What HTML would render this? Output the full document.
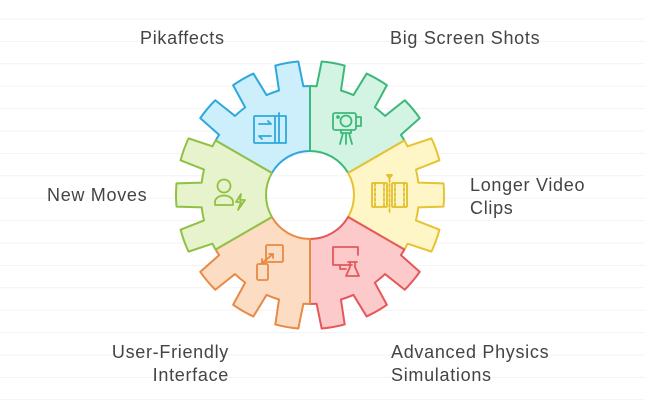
<!DOCTYPE html>
<html><head><meta charset="utf-8"><style>
html,body{margin:0;padding:0;background:#fff;}
body{width:645px;height:400px;overflow:hidden;position:relative;font-family:"Liberation Sans",sans-serif;}
.t{position:absolute;font-size:18px;color:#444;line-height:23px;white-space:nowrap;letter-spacing:0.7px}
</style></head><body>
<svg width="645" height="400" style="position:absolute;left:0;top:0">
<g id="lines" stroke="#f3f3f3" stroke-width="1"></g>
<g id="gear" stroke-width="2" stroke-linejoin="round"></g>
<g fill="none" stroke-width="1.8" stroke-linecap="round" stroke-linejoin="round">
 <g stroke="#2ea8dc"><rect x="254" y="116" width="21" height="27" rx="1"/><path d="M275 116 h11 v27 h-11 M279 113 v30"/><path d="M259 124 h12 l-3 -3 M271 136 h-12 l3 3"/></g>
 <g stroke="#3cb97a"><rect x="333" y="113" width="23" height="17" rx="2"/><circle cx="346" cy="121" r="5.5"/><circle cx="338" cy="117" r="1"/><path d="M356 117 h5 v9 h-5 M341 130 v3 h10 v-3 M343 133 l-3 11 M349 133 l3 11 M346 133 v11"/></g>
 <g stroke="#e3be2a"><rect x="372" y="183" width="15" height="24" rx="1"/><rect x="392" y="183" width="15" height="24" rx="1"/><path d="M375 183 v24 M384 183 v24 M395 183 v24 M404 183 v24 M389.5 179 v34" stroke-dasharray="3 2"/><path d="M387 175 h5 l-2.5 3z"/></g>
 <g stroke="#90c143"><circle cx="224" cy="186" r="6.5"/><path d="M215 205 v-3 a9 6.5 0 0 1 18 0 v3 z"/><path d="M241 194 l-5 8 h5 l-3 8 l7 -10 h-5 z"/></g>
 <g stroke="#e88a45"><rect x="266" y="245" width="17" height="17" rx="1.5"/><rect x="257" y="264" width="11" height="16" rx="1.5"/><path d="M262 263 l11 -9 M273 254 h-4 M273 254 v4 M262 263 h4 M262 263 v-4"/></g>
 <g stroke="#e4585a"><path d="M352 265 h-19 v-18 h25 v8"/><path d="M340 265 v4 h6"/><path d="M348 262 h9 M350 262 v5 l-4 9 h13 l-4 -9 v-5"/></g>
</g>
</svg>
<div class="t" style="left:140px;top:27px">Pikaffects</div>
<div class="t" style="left:390px;top:27px">Big Screen Shots</div>
<div class="t" style="left:47px;top:184px">New Moves</div>
<div class="t" style="left:470px;top:174px">Longer Video<br>Clips</div>
<div class="t" style="left:80px;top:341px;width:149px;text-align:right">User-Friendly<br>Interface</div>
<div class="t" style="left:391px;top:341px">Advanced Physics<br>Simulations</div>
<script>
(function(){
var L=document.getElementById('lines'),s='';
for(var y=19;y<400;y+=22.4){s+='<line x1="0" x2="645" y1="'+y.toFixed(1)+'" y2="'+y.toFixed(1)+'"/>';}
L.innerHTML=s;
var cx=310,cy=195,Ri=44,R1=109,R2=134;
function P(r,a){a=a*Math.PI/180;return (cx+r*Math.cos(a)).toFixed(2)+' '+(cy-r*Math.sin(a)).toFixed(2);}
var segs=[[90,'#cdeefb','#2ea8dc'],[30,'#d3f3e3','#3cb97a'],[-30,'#fef6c6','#e6c332'],[-90,'#fccaca','#e4585a'],[210,'#fcdcc3','#e88a45'],[150,'#e6f3cc','#90c143']];
var h='';
segs.forEach(function(sg){
 var a0=sg[0],d='M'+P(Ri,a0)+' L'+P(R1,a0);
 [10,30,50].forEach(function(o){
  var c=a0+o,b0=c-6.5,b1=c+6.5,t0=c-5,t1=c+5;
  d+=' A'+R1+' '+R1+' 0 0 0 '+P(R1,b0);
  d+=' L'+P(R2,t0)+' A'+R2+' '+R2+' 0 0 0 '+P(R2,t1)+' L'+P(R1,b1);
 });
 d+=' A'+R1+' '+R1+' 0 0 0 '+P(R1,a0+60)+' L'+P(Ri,a0+60)+' A'+Ri+' '+Ri+' 0 0 1 '+P(Ri,a0)+' Z';
 h+='<path d="'+d+'" fill="'+sg[1]+'" stroke="'+sg[2]+'"/>';
});
document.getElementById('gear').innerHTML=h;
})();
</script>
</body></html>
